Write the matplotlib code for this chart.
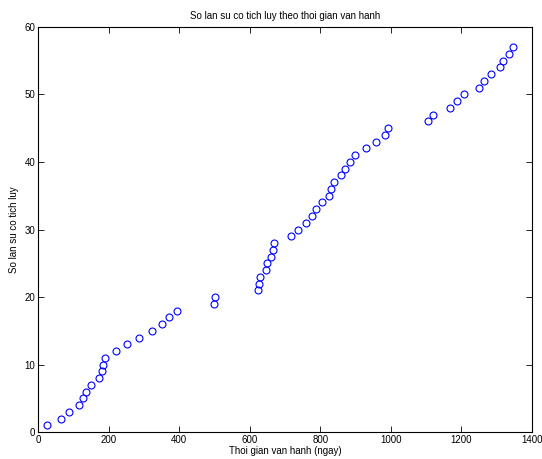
import matplotlib
matplotlib.use("Agg")
import matplotlib.pyplot as plt

# --- Donnees : temps de fonctionnement (jours) et nombre cumule de pannes ---
thoi_gian = [26, 65, 87, 117, 128, 137, 150, 172, 182, 185,
             189, 222, 251, 285, 322, 351, 372, 395, 498, 503,
             623, 625, 629, 647, 650, 659, 665, 670, 716, 736,
             760, 777, 788, 806, 824, 829, 839, 860, 870, 884,
             898, 930, 958, 983, 991, 1106, 1119, 1169, 1188, 1206,
             1251, 1265, 1283, 1310, 1317, 1335, 1345]
so_lan = list(range(1, len(thoi_gian) + 1))

x_ticks = [0, 200, 400, 600, 800, 1000, 1200, 1400]
y_ticks = [0, 10, 20, 30, 40, 50, 60]

plt.rcParams['font.family'] = ['Liberation Sans', 'DejaVu Sans']

fig = plt.figure(figsize=(5.42, 4.59), dpi=100)
ax = fig.add_axes([0.0701, 0.0588, 0.9114, 0.8824])

ax.plot(thoi_gian, so_lan, linestyle='none', marker='o', markersize=5,
        markerfacecolor='none', markeredgecolor='#0000ff', markeredgewidth=0.8)

ax.set_xlim(0, 1400)
ax.set_ylim(0, 60)
ax.set_xticks(x_ticks)
ax.set_yticks(y_ticks)
ax.tick_params(direction='in', top=True, right=True, labelsize=7, length=4, width=0.6, pad=2)
for s in ax.spines.values():
    s.set_linewidth(0.8)

ax.set_title("So lan su co tich luy theo thoi gian van hanh", fontsize=7, pad=6)
ax.set_xlabel("Thoi gian van hanh (ngay)", fontsize=7, labelpad=1)
ax.set_ylabel("So lan su co tich luy", fontsize=7, labelpad=4)

fig.savefig("out.png", dpi=100)
